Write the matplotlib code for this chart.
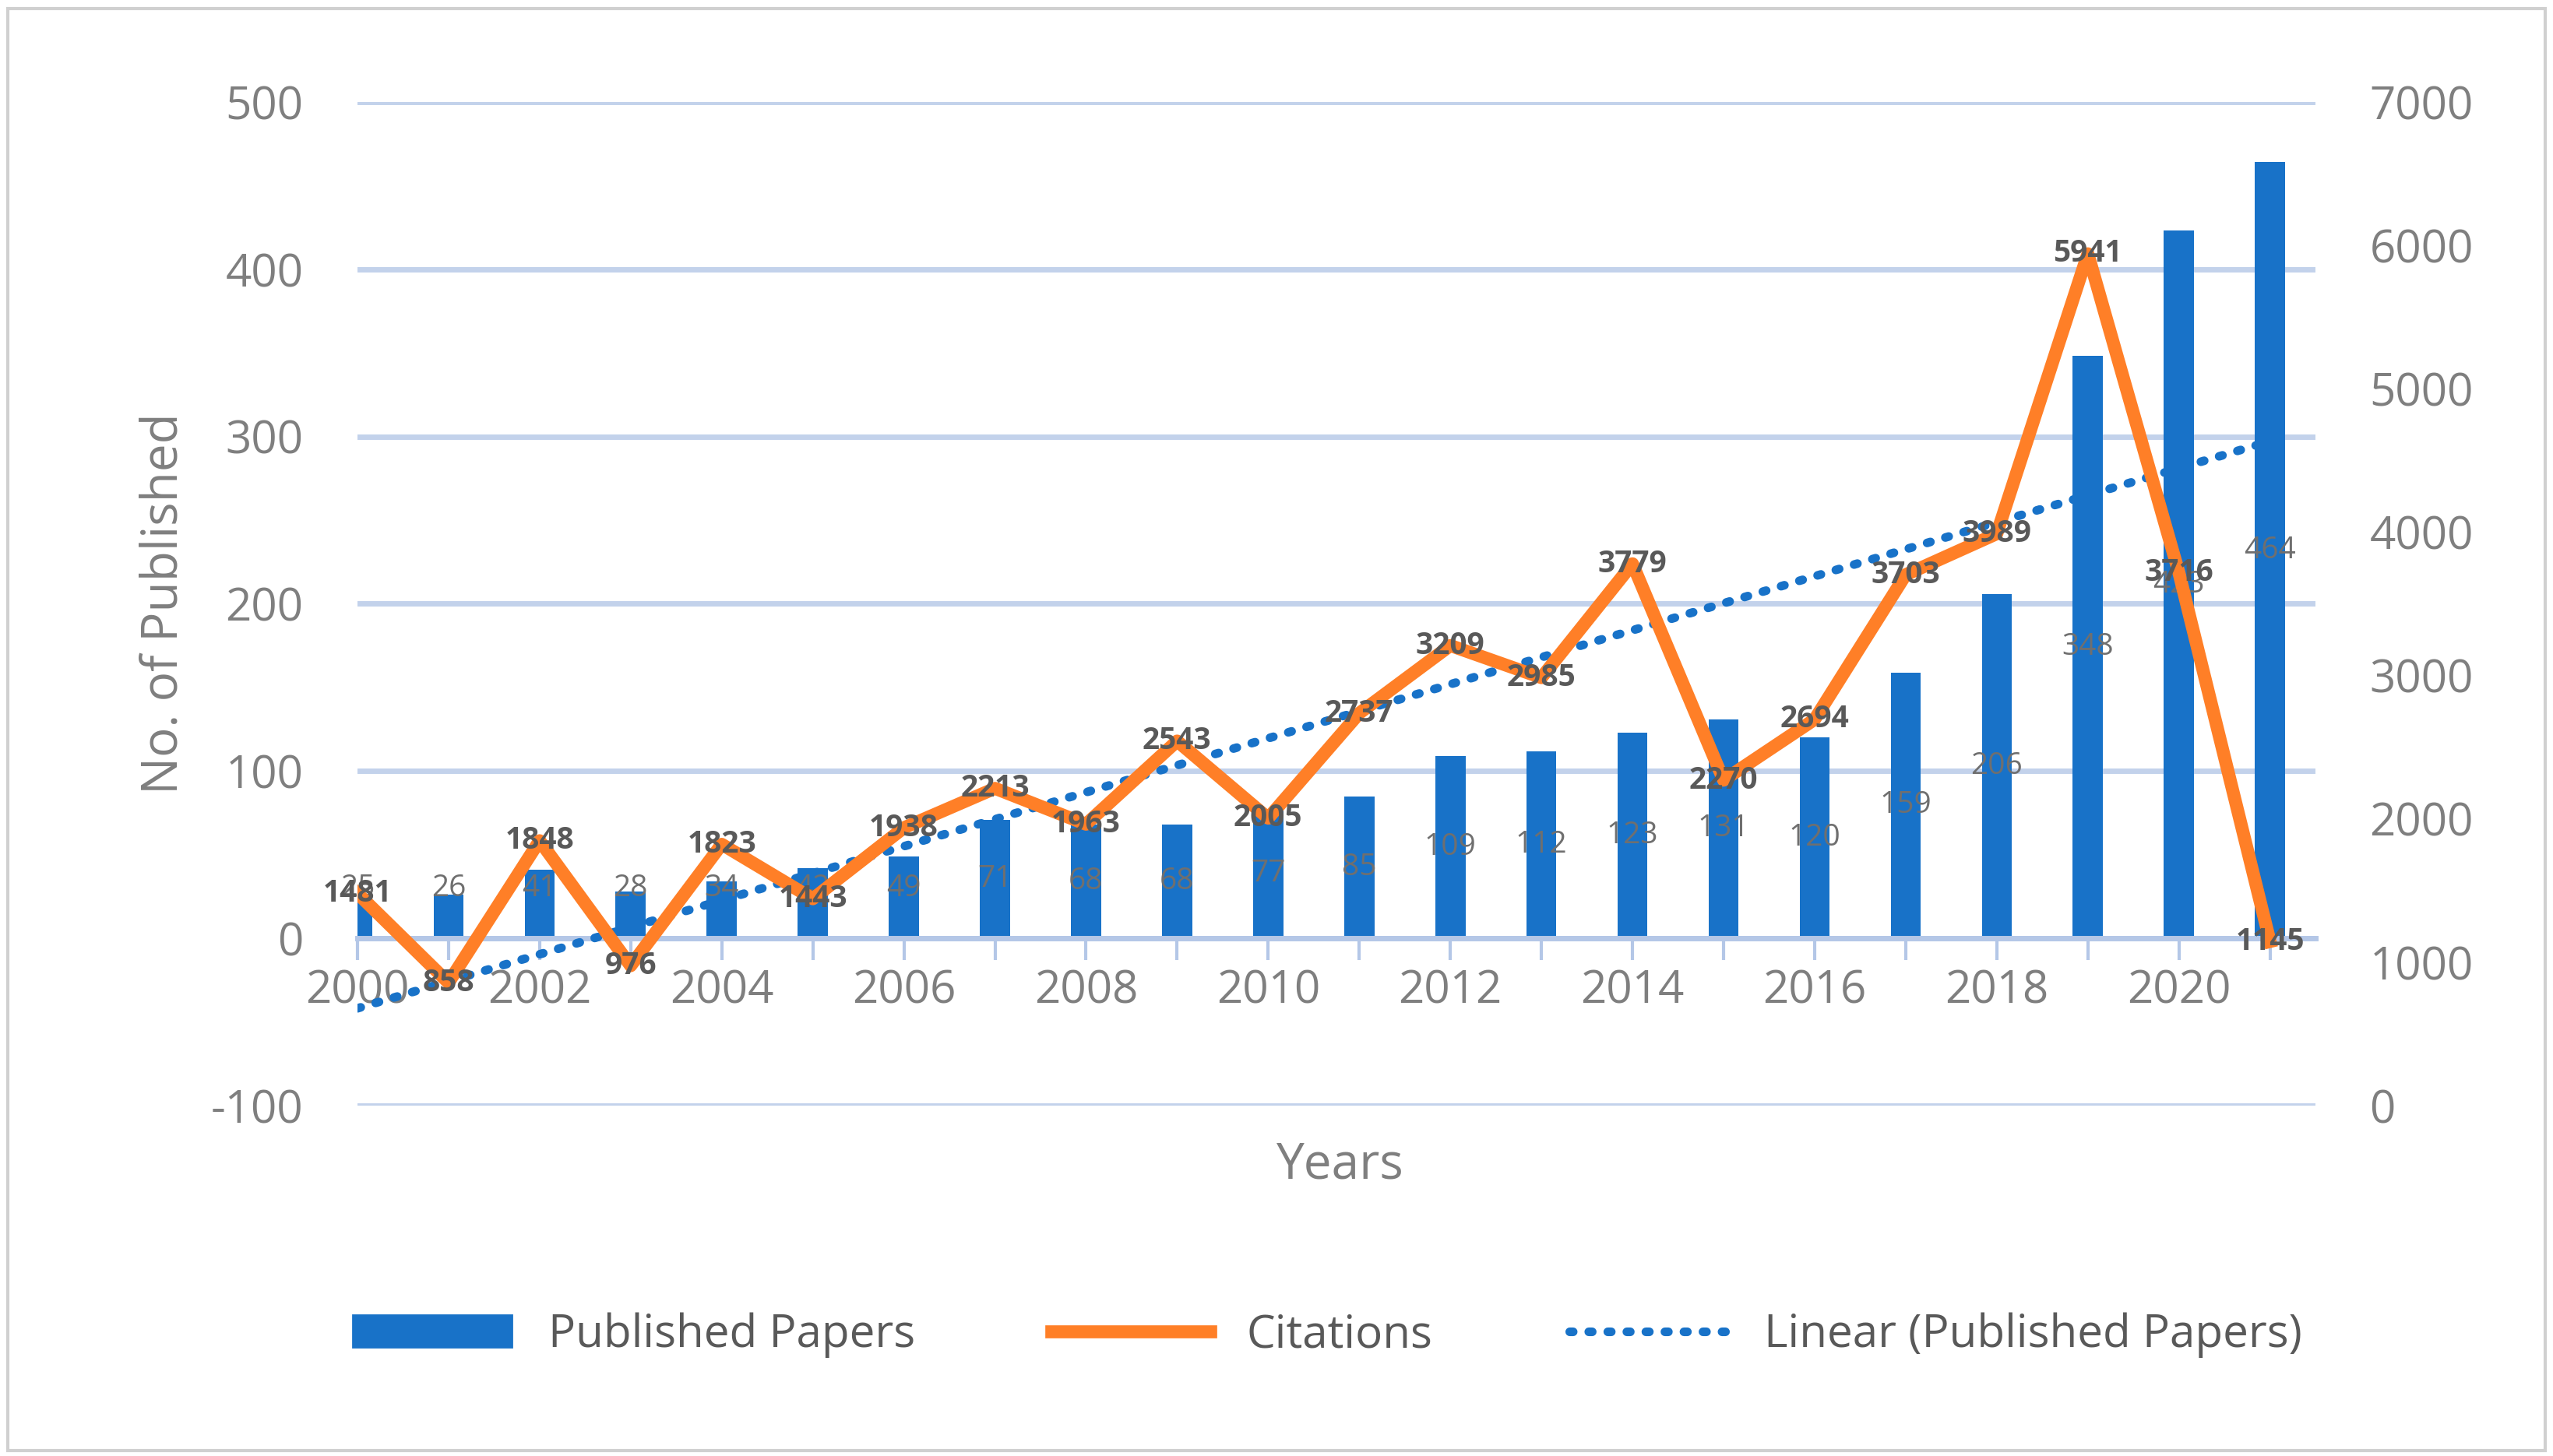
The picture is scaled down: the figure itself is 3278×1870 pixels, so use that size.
import matplotlib.pyplot as plt
import numpy as np

plt.rcParams['font.family'] = ['Open Sans', 'DejaVu Sans']
plt.rcParams['axes.unicode_minus'] = False

years = list(range(2000, 2022))
papers = [25, 26, 41, 28, 34, 42, 49, 71, 68, 68, 77, 85, 109, 112, 123, 131, 120, 159, 206, 348, 423, 464]
citations = [1481, 858, 1848, 976, 1823, 1443, 1938, 2213, 1963, 2543, 2005, 2737, 3209, 2985, 3779,
             2270, 2694, 3703, 3989, 5941, 3716, 1145]

grey = '#6f6f6f'
blue = '#1872C8'
orange = '#FF7F27'

fig = plt.figure(figsize=(16.39, 9.35), dpi=200)
ax = fig.add_axes([0.140, 0.2406, 0.767, 0.6894])
ax2 = ax.twinx()

x = np.array(years)
ax.bar(x, papers, width=0.33, color=blue, zorder=2, label='Published Papers')
for xi, p in zip(x, papers):
    ax.text(xi, max(p / 2, 30), str(p), ha='center', va='center', fontsize=14, color=grey, zorder=5)

# Excel style linear trendline
k, b = np.polyfit(x, papers, 1)
trend, = ax.plot(x, k * x + b, linestyle=(0, (0.4, 1.8)), color=blue, lw=4,
                 dash_capstyle='round', zorder=3, label='Linear (Published Papers)')

line, = ax2.plot(x, citations, color=orange, lw=6, zorder=4, label='Citations')
for xi, c in zip(x, citations):
    ax2.text(xi, c, str(c), ha='center', va='center', fontsize=14, color='#595959',
             fontweight='bold', zorder=6)

ax.set_xlim(2000, 2021.5)
ax.set_ylim(-100, 500)
ax2.set_ylim(0, 7000)
ax.set_yticks(range(-100, 501, 100))
ax2.set_yticks(range(0, 7001, 1000))
ax.grid(axis='y', color='#b4c7e7', lw=2.5, alpha=0.8, zorder=0)
ax.set_axisbelow(True)

ax.spines['bottom'].set_position(('data', 0))
ax.spines['bottom'].set_color('#b4c7e7')
ax.spines['bottom'].set_linewidth(2.5)
for s in ['top', 'left', 'right']:
    ax.spines[s].set_visible(False)
    ax2.spines[s].set_visible(False)
ax2.spines['bottom'].set_visible(False)

ax.set_xticks(years)
ax.set_xticklabels([str(y) if y % 2 == 0 else '' for y in years])
ax.tick_params(axis='x', length=10, width=1.5, color='#b4c7e7', labelsize=21, labelcolor='#7f7f7f', pad=4)
ax.tick_params(axis='y', length=0, labelsize=21, labelcolor='#7f7f7f', pad=25)
ax2.tick_params(axis='y', length=0, labelsize=21, labelcolor='#7f7f7f', pad=25)

ax.set_ylabel('No. of Published', fontsize=23, color='#7f7f7f', labelpad=10)
fig.text(0.525, 0.2, 'Years', ha='center', va='center', fontsize=23, color='#7f7f7f')

fig.legend([plt.Rectangle((0, 0), 1, 1, color=blue), line, trend],
           ['Published Papers', 'Citations', 'Linear (Published Papers)'],
           loc='center', bbox_to_anchor=(0.52, 0.083), ncol=3, frameon=False,
           fontsize=21, labelcolor='#595959', handlelength=3.5, columnspacing=3)

fig.patches.append(plt.Rectangle((0.003, 0.004), 0.994, 0.99, transform=fig.transFigure,
                                 fill=False, edgecolor='#d0d0d0', lw=1.5))

fig.savefig('out.png', dpi=200)
